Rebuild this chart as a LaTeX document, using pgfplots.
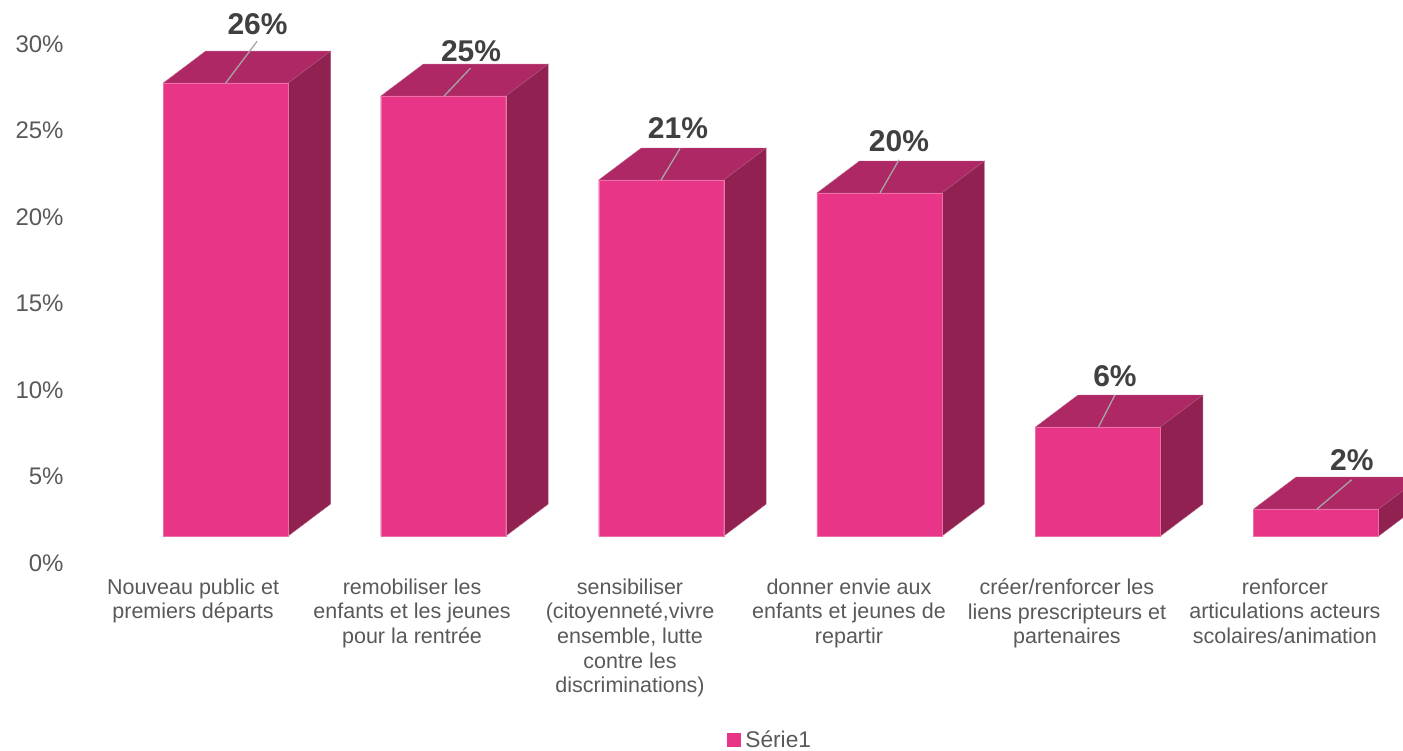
\documentclass[border=0pt]{standalone}
\usepackage{pgfplots}
\pgfplotsset{compat=1.18}
\usepackage{pgfplotstable}
\usepackage{fontspec}
\setmainfont{Liberation Sans}
\definecolor{front}{HTML}{E83587}
\definecolor{topc}{HTML}{AE2865}
\definecolor{sidec}{HTML}{912151}
\definecolor{edge}{HTML}{EC6FA8}
\definecolor{txt}{HTML}{595959}
\definecolor{lab}{HTML}{404040}
\definecolor{lead}{HTML}{A6A6A6}
\pgfplotstableread{
x v
225.5 26.18
443.2 25.43
661.2 20.58
879.5 19.83
1098.0 6.30
1316.2 1.56
}\bars
% left edge, front height
\newcommand\cube[2]{%
  \addplot[forget plot,fill=topc,draw=topc!75!white,line width=0.4pt] coordinates {(#1,#2)(#1+42.5,#2+1.85)(#1+167.5,#2+1.85)(#1+125,#2)} --cycle;
  \addplot[forget plot,fill=sidec,draw=sidec!75!white,line width=0.4pt] coordinates {(#1+125,0)(#1+167.5,1.85)(#1+167.5,#2+1.85)(#1+125,#2)} --cycle;
}
\newcommand\lead[4]{%
  \addplot[forget plot,lead,line width=1.3pt] coordinates {(#1,#2)(#3,#4)};
}
\begin{document}
\begin{tikzpicture}
\begin{axis}[
  at={(0,0)},anchor=south west,
  width=1403pt,height=749pt,scale only axis,
  xmin=0,xmax=1403,ymin=-12.312,ymax=30.983,
  axis line style={draw=none},
  major tick length=0pt,
  ytick={-1.56,3.44,8.44,13.44,18.44,23.44,28.44},
  yticklabels={0\%,5\%,10\%,15\%,20\%,25\%,30\%},
  yticklabel style={font=\fontsize{24}{26}\selectfont,text=txt,anchor=east,xshift=67pt},
  xtick={193,412,630,849,1067,1285},
  xticklabels={
    {Nouveau public et\\premiers départs},
    {remobiliser les\\enfants et les jeunes\\pour la rentrée},
    {sensibiliser\\(citoyenneté,vivre\\ensemble, lutte\\contre les\\discriminations)},
    {donner envie aux\\enfants et jeunes de\\repartir},
    {créer/renforcer les\\liens prescripteurs et\\partenaires},
    {renforcer\\articulations acteurs\\scolaires/animation}},
  xticklabel style={font=\fontsize{21.5}{24.7}\selectfont,text=txt,align=center,anchor=north,yshift=174pt},
  legend style={at={(axis cs:727,-11.76)},anchor=west,draw=none,fill=none,font=\fontsize{22.7}{24}\selectfont\color{txt},inner sep=0pt,outer sep=0pt},
  legend cell align=left,
  legend image code/.code={\fill[front] (0pt,-6.5pt) rectangle (13pt,6.5pt);\path (16pt,0pt);},
]
\cube{163}{26.18}
\cube{380.7}{25.43}
\cube{598.7}{20.58}
\cube{817}{19.83}
\cube{1035.5}{6.30}
\cube{1253.7}{1.56}
\addplot[ybar,bar width=125pt,bar shift=0pt,fill=front,draw=edge,line width=0.4pt] table[x=x,y=v] {\bars};
\addlegendentry{Série1}
\lead{225.5}{26.18}{257}{28.60}
\lead{444}{25.43}{470.5}{27.05}
\lead{661}{20.58}{680}{22.40}
\lead{880}{19.83}{899}{21.75}
\lead{1098.5}{6.30}{1115}{8.15}
\lead{1317}{1.56}{1351.7}{3.25}
\node[font=\fontsize{30}{32}\selectfont\bfseries,text=lab] at (axis cs:257.5,29.6) {26\%};
\node[font=\fontsize{30}{32}\selectfont\bfseries,text=lab] at (axis cs:471,28.03) {25\%};
\node[font=\fontsize{30}{32}\selectfont\bfseries,text=lab] at (axis cs:678,23.58) {21\%};
\node[font=\fontsize{30}{32}\selectfont\bfseries,text=lab] at (axis cs:899,22.83) {20\%};
\node[font=\fontsize{30}{32}\selectfont\bfseries,text=lab] at (axis cs:1115,9.25) {6\%};
\node[font=\fontsize{30}{32}\selectfont\bfseries,text=lab] at (axis cs:1352,4.39) {2\%};
\end{axis}
\end{tikzpicture}
\end{document}
